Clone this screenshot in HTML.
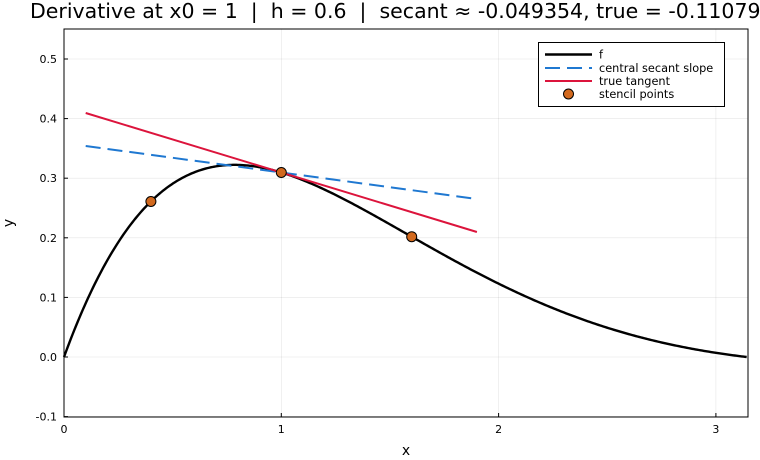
<!DOCTYPE html>
<html><head><style>
body{margin:0;background:#fff;}
svg{display:block;font-family:"DejaVu Sans","Liberation Sans",sans-serif;}
text{white-space:pre;}
</style></head><body>
<svg id="s" width="760" height="460" xmlns="http://www.w3.org/2000/svg">
<rect width="760" height="460" fill="#fff"/>
<g id="grid" stroke="#000" stroke-opacity="0.1" stroke-width="0.6"></g>
<rect x="64" y="29" width="684" height="388" fill="none" stroke="#000" stroke-width="1"/>
<g id="ticks" font-size="11" fill="#000"></g>
<path id="f" fill="none" stroke="#000" stroke-width="2.4"/>
<line x1="85.7" y1="146" x2="476.9" y2="199" stroke="#1f78d1" stroke-width="2" stroke-dasharray="15,7"/>
<line x1="85.7" y1="113" x2="476.9" y2="232" stroke="#dc143c" stroke-width="2"/>
<g fill="#d2691e" stroke="#000" stroke-width="1">
<circle cx="150.9" cy="201.5" r="5"/><circle cx="281.3" cy="172.5" r="5"/><circle cx="411.7" cy="236.7" r="5"/>
</g>
<text x="30" y="18" font-size="20.5" xml:space="preserve">Derivative at x0 = 1  |  h = 0.6  |  secant ≈ -0.049354, true = -0.110794</text>
<text x="406" y="455" font-size="14" text-anchor="middle">x</text>
<text x="13" y="223" font-size="14" text-anchor="middle" transform="rotate(-90 13 223)">y</text>
<rect x="538.5" y="42.5" width="186" height="64" fill="#fff" stroke="#000" stroke-width="1"/>
<line x1="545" y1="54.5" x2="592" y2="54.5" stroke="#000" stroke-width="2.4"/>
<line x1="545" y1="68" x2="592" y2="68" stroke="#1f78d1" stroke-width="2" stroke-dasharray="15,7"/>
<line x1="545" y1="81" x2="592" y2="81" stroke="#dc143c" stroke-width="2"/>
<circle cx="568.5" cy="94" r="5" fill="#d2691e" stroke="#000"/>
<g font-size="11.3"><text x="599" y="58.5">f</text><text x="599" y="72">central secant slope</text><text x="599" y="85">true tangent</text><text x="599" y="98">stencil points</text></g>
</svg>
<script>
var X=function(x){return 64+217.3*x},Y=function(y){return 357-596*y};
var d="";for(var i=0;i<=400;i++){var x=Math.PI*i/400;var y=Math.sin(x)*Math.exp(-x);d+=(i?"L":"M")+X(x).toFixed(2)+","+Y(y).toFixed(2);}
document.getElementById("f").setAttribute("d",d);
var g=document.getElementById("grid"),t=document.getElementById("ticks"),ns="http://www.w3.org/2000/svg";
function el(p,n,a,txt){var e=document.createElementNS(ns,n);for(var k in a)e.setAttribute(k,a[k]);if(txt!=null)e.textContent=txt;p.appendChild(e);}
for(var i=0;i<=3;i++){var px=X(i);el(g,"line",{x1:px,y1:29,x2:px,y2:417});el(t,"text",{x:px,y:433,"text-anchor":"middle"},String(i));el(t,"line",{x1:px,y1:417,x2:px,y2:413,stroke:"#000"});}
for(var j=-1;j<=5;j++){var v=j/10,py=Y(v);el(g,"line",{x1:64,y1:py,x2:748,y2:py});el(t,"text",{x:57,y:py+4,"text-anchor":"end"},v.toFixed(1));el(t,"line",{x1:64,y1:py,x2:68,y2:py,stroke:"#000"});}
</script>
</body></html>
